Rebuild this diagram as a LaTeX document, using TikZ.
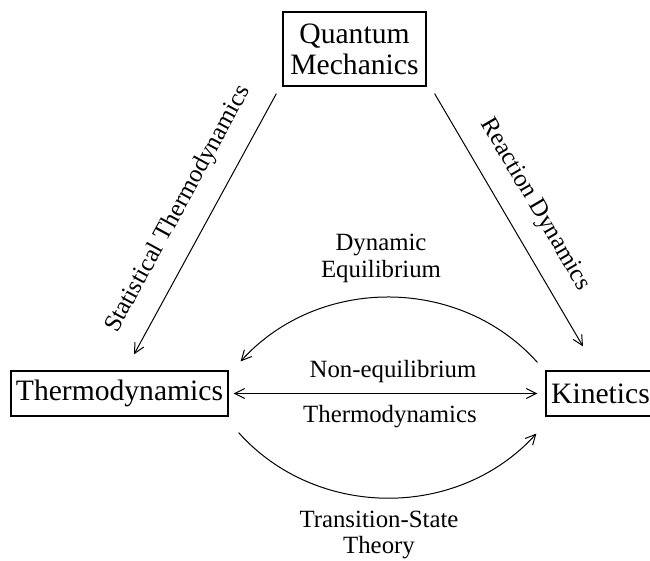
\documentclass[tikz,border=0pt]{standalone}
\usepackage{fontspec}
\setmainfont{Liberation Serif}
\usetikzlibrary{arrows.meta}
\begin{document}
\begin{tikzpicture}[x=0.5pt,y=-0.5pt,
  box/.style={draw, line width=0.6pt, inner sep=0pt, font=\fontsize{14.8}{15.6}\selectfont, align=center},
  lbl/.style={font=\fontsize{12.4}{13.4}\selectfont, align=center, inner sep=0pt},
  tip/.tip={Straight Barb[length=5pt,width=5pt]},
  conn/.style={line width=0.5pt, -tip},
  dconn/.style={line width=0.5pt, tip-tip}]
\useasboundingbox (0,0) rectangle (650,561);
\node[box, minimum width=71.5pt, minimum height=37pt] (qm) at (354.5,49) {Quantum\\Mechanics};
\node[box, minimum width=108.5pt, minimum height=22.5pt] (th) at (119.5,393.5) {Thermodynamics};
\node[box, minimum width=54.5pt, minimum height=22.5pt] (ki) at (600.5,393.5) {Kinetics};
\draw[conn] ([shift={(-6,7)}]qm.south west) -- node[lbl, sloped, above=9.4pt, midway] (st) {Statistical Thermodynamics} ([shift={(14.5,-16)}]th.north);
\draw[conn] ([shift={(8,7)}]qm.south east) -- node[lbl, sloped, above=9.4pt, midway] (rd) {Reaction Dynamics} ([shift={(-17.5,-24)}]ki.north);
\draw[dconn] ([shift={(5,0)}]th.east) -- ([shift={(-8,0)}]ki.west);
\draw[conn] ([shift={(-8,-8)}]ki.north west) to[bend right=48] ([shift={(12,-9)}]th.north east);
\draw[conn] ([shift={(10,16)}]th.south east) to[bend right=48] ([shift={(-9,17)}]ki.south west);
\node[lbl] (de) at (381,258.5) {Dynamic\\Equilibrium};
\node[lbl] (ne) at (393,372) {Non-equilibrium};
\node[lbl] (nt) at (390,417) {Thermodynamics};
\node[lbl] (ts) at (379,535) {Transition-State\\Theory};
\end{tikzpicture}
\end{document}
